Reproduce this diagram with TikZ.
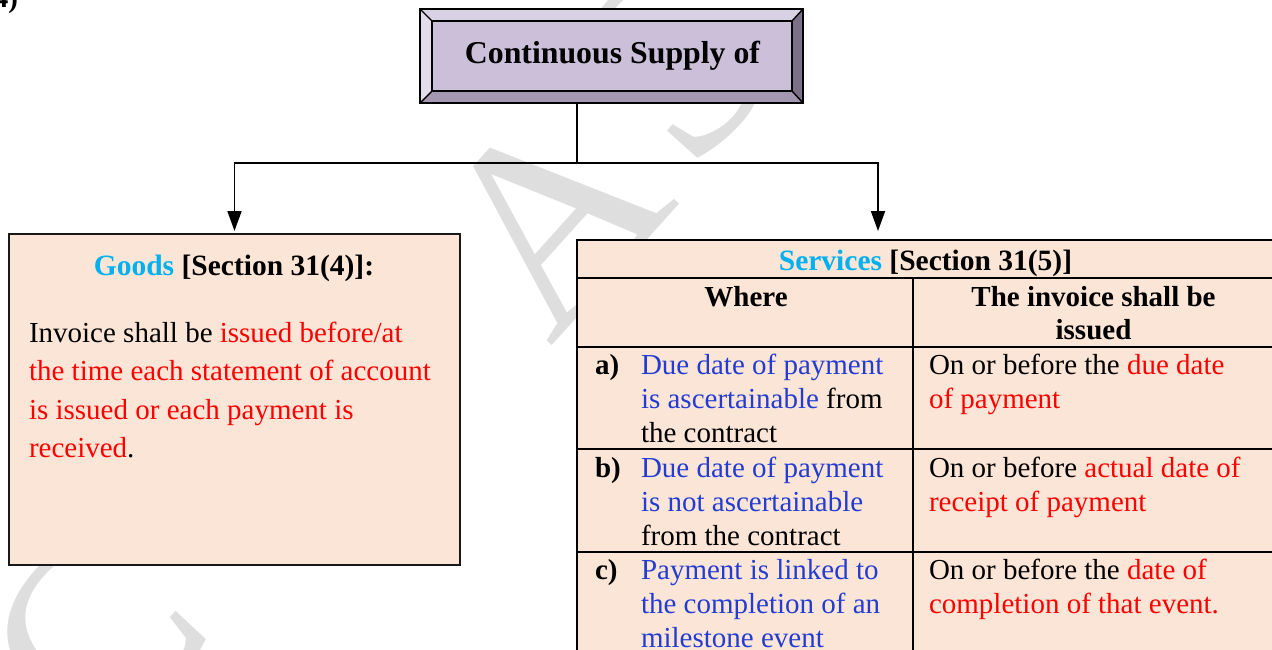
\documentclass[tikz,border=0pt]{standalone}
\usepackage{fontspec}
\setmainfont{Liberation Serif}
\usetikzlibrary{arrows.meta}

\definecolor{boxfill}{HTML}{FBE5D6}
\definecolor{face}{HTML}{CBBFDA}
\definecolor{bevtop}{HTML}{D9D1E4}
\definecolor{bevleft}{HTML}{E2DCEB}
\definecolor{bevbot}{HTML}{A497B1}
\definecolor{bevright}{HTML}{7C7089}
\definecolor{headcyan}{HTML}{00B0F0}
\definecolor{condblue}{RGB}{35,60,210}
\definecolor{wmark}{RGB}{222,222,222}

\newcommand{\rd}[1]{\textcolor{red}{#1}}
\newcommand{\bl}[1]{\textcolor{condblue}{#1}}
\newcommand{\celltext}[1]{\begin{tabular}[t]{@{}l@{}}#1\end{tabular}}

\begin{document}
\begin{tikzpicture}[x=1pt,y=-1pt,
  plain/.style={inner sep=0pt, outer sep=0pt},
  cell/.style={plain, anchor=base west, font=\fontsize{29}{34}\selectfont},
  body/.style={plain, anchor=base west, font=\fontsize{29}{38.5}\selectfont},
  heading/.style={plain, anchor=base, font=\fontsize{29.5}{34}\selectfont\bfseries},
  label/.style={plain, anchor=base west, font=\fontsize{29}{34}\selectfont\bfseries},
  wm/.style={plain, text=wmark, font=\fontsize{270}{270}\selectfont, rotate=48},
  conn/.style={line width=1.8pt, -{Triangle[width=14pt,length=20pt]}},
  bevel/.style={draw=black, line width=1.4pt, line join=miter}]

\useasboundingbox (0,0) rectangle (1272,649);

% faint diagonal watermark behind everything
\node[wm] (wmc)  at (95,640)  {C};
\node[wm] (wma)  at (290,420) {A};
\node[wm] (wmb)  at (550,215) {A};
\node[wm] (wms)  at (675,62)  {S};

% cut-off item number in the corner
\node[label] (itemno) at (-6,7) {4)};

% bevelled title box
\node[plain, minimum width=383pt, minimum height=94pt] (supply) at (611.5,56) {};
\fill[bevtop]   (420,9) -- (803,9) -- (792,21) -- (432,21) -- cycle;
\fill[bevleft]  (420,9) -- (432,21) -- (432,91) -- (420,103) -- cycle;
\fill[bevbot]   (420,103) -- (432,91) -- (792,91) -- (803,103) -- cycle;
\fill[bevright] (803,9) -- (792,21) -- (792,91) -- (803,103) -- cycle;
\fill[face] (432,21) rectangle (792,91);
\draw[bevel] (420,9) rectangle (803,103);
\draw[bevel] (432,21) rectangle (792,91);
\draw[bevel] (420,9) -- (432,21) (803,9) -- (792,21)
             (420,103) -- (432,91) (803,103) -- (792,91);
\node[plain, anchor=base, font=\fontsize{31.8}{36}\selectfont\bfseries] (supplytext) at (612.5,63) {Continuous Supply of};

% goods box
\node[plain, draw=black!90, line width=2pt, fill=boxfill,
      minimum width=451pt, minimum height=331pt] (goods) at (234.5,399.5) {};
\node[heading] (goodshead) at (234,275) {\textcolor{headcyan}{Goods} [Section 31(4)]:};
\node[body] (goodsbody) at (29,342) {\celltext{Invoice shall be \rd{issued before/at}\\
  \rd{the time each statement of account}\\
  \rd{is issued or each payment is}\\
  \rd{received}.}};

% services table
\node[plain, draw=black, line width=2pt, fill=boxfill,
      minimum width=699pt, minimum height=430pt] (services) at (926.5,455) {};
\draw[line width=2pt] (577,278) -- (1280,278)
                      (577,347) -- (1280,347)
                      (577,449) -- (1280,449)
                      (577,552) -- (1280,552)
                      (913,278) -- (913,670);
\node[heading] (svchead) at (925.5,270) {\textcolor{headcyan}{Services} [Section 31(5)]};
\node[heading, font=\fontsize{29}{33}\selectfont\bfseries] (wherehead) at (746,306) {Where};
\node[heading, font=\fontsize{29}{33}\selectfont\bfseries] (issuehead) at (1093.5,306)
  {\begin{tabular}[t]{@{}c@{}}The invoice shall be\\ issued\end{tabular}};

\node[label] (la) at (595,374) {a)};
\node[cell] (ca) at (641,374) {\celltext{\bl{Due date of payment}\\
  \bl{is ascertainable} from\\ the contract}};
\node[cell] (ra) at (929,374) {\celltext{On or before the \rd{due date}\\ \rd{of payment}}};

\node[label] (lb) at (595,477) {b)};
\node[cell] (cb) at (641,477) {\celltext{\bl{Due date of payment}\\
  \bl{is not ascertainable}\\ from the contract}};
\node[cell] (rb) at (929,477) {\celltext{On or before \rd{actual date of}\\ \rd{receipt of payment}}};

\node[label] (lc) at (595,579) {c)};
\node[cell] (cc) at (641,579) {\celltext{\bl{Payment is linked to}\\
  \bl{the completion of an}\\ \bl{milestone event}}};
\node[cell] (rc) at (929,579) {\celltext{On or before the \rd{date of}\\ \rd{completion of that event.}}};

% connectors
\coordinate (junction) at (577,163);
\coordinate (goodstip) at ([yshift=3pt]goods.north);
\coordinate (svctip) at (878,231);
\draw[line width=1.8pt] (supply.south -| junction) -- (junction);
\draw[conn] (junction) -| (goodstip);
\draw[conn] (junction) -| (svctip);
\end{tikzpicture}
\end{document}
